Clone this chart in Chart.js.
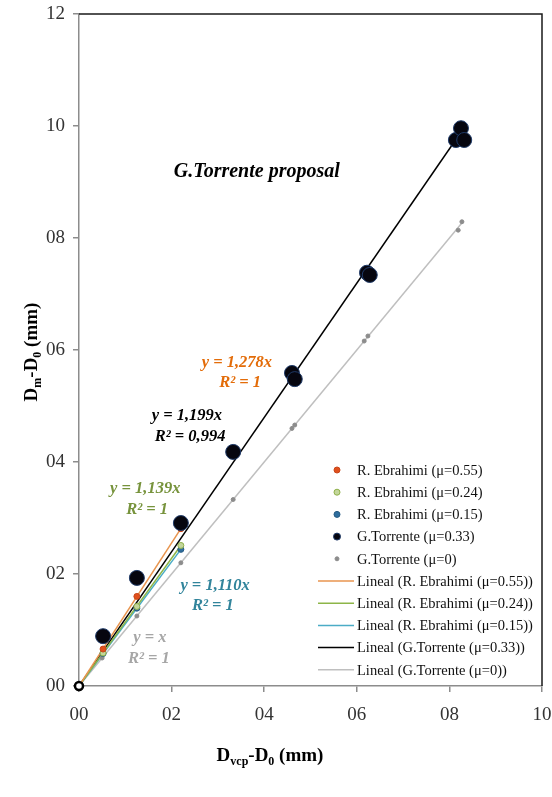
<!DOCTYPE html>
<html>
<head>
<meta charset="utf-8">
<script src="https://cdn.jsdelivr.net/npm/chart.js@4.4.0/dist/chart.umd.min.js"></script>
<style>
  html, body { margin: 0; padding: 0; background: #fff; }
  #wrap { width: 552px; height: 797px; position: relative; }
</style>
</head>
<body>
<div id="wrap"><canvas id="chart"></canvas></div>
<script>
'use strict';

// tick labels as printed in the figure (decimal separator lost)
const xTickLabels = ['00', '02', '04', '06', '08', '10'];
const yTickLabels = ['00', '02', '04', '06', '08', '10', '12'];

// measured points
const ebr055X = [0.052, 0.125, 0.22];
const ebr055Y = [0.066, 0.160, 0.281];
const ebr024X = [0.052, 0.125, 0.22];
const ebr024Y = [0.059, 0.142, 0.251];
const ebr015X = [0.052, 0.125, 0.22];
const ebr015Y = [0.058, 0.139, 0.244];
const torr033X = [0.052, 0.125, 0.22, 0.333, 0.46, 0.466, 0.622, 0.628, 0.814, 0.825, 0.832];
const torr033Y = [0.089, 0.193, 0.291, 0.418, 0.559, 0.548, 0.738, 0.734, 0.975, 0.996, 0.975];
const torr0X = [0.05, 0.125, 0.22, 0.333, 0.46, 0.466, 0.616, 0.624, 0.819, 0.827];
const torr0Y = [0.05, 0.125, 0.22, 0.333, 0.46, 0.466, 0.616, 0.625, 0.814, 0.829];

// linear fits (trend lines through the origin)
const fitEbrX = [0, 0.22];
const fit055Y = [0, 0.281];
const fit024Y = [0, 0.251];
const fit015Y = [0, 0.244];
const fitTorrX = [0, 0.83];
const fit033Y = [0, 0.995];
const fit0Y = [0, 0.83];

// equation labels: [text, x, y, colour]
const notes = [
    ['y = 1,278x', 0.341, 0.577, '#e36c09'],
    ['R² = 1', 0.348, 0.541, '#e36c09'],
    ['y = 1,199x', 0.233, 0.482, '#000000'],
    ['R² = 0,994', 0.240, 0.445, '#000000'],
    ['y = 1,139x', 0.143, 0.352, '#77933c'],
    ['R² = 1', 0.147, 0.314, '#77933c'],
    ['y = 1,110x', 0.294, 0.179, '#31849b'],
    ['R² = 1', 0.289, 0.143, '#31849b'],
    ['y = x', 0.153, 0.086, '#a6a6a6'],
    ['R² = 1', 0.151, 0.048, '#a6a6a6'],
];

const pts = (xs, ys) => xs.map((x, i) => ({ x, y: ys[i] }));
const SERIF = "'Liberation Serif', 'DejaVu Serif', serif";

function pointSet(label, xs, ys, fill, stroke, r) {
    return { label, data: pts(xs, ys), showLine: false, pointRadius: r, pointHoverRadius: r,
        backgroundColor: fill, borderColor: stroke, borderWidth: 1, inLegend: true };
}
function lineSet(label, xs, ys, color) {
    return { label, data: pts(xs, ys), showLine: true, pointRadius: 0, borderColor: color,
        backgroundColor: color, borderWidth: 1.5, inLegend: true };
}

// drawn top-first: earlier datasets end up above later ones
const datasets = [
    { label: 'origin', data: [{ x: 0, y: 0 }], pointRadius: 4, backgroundColor: '#fff',
      borderColor: '#000', borderWidth: 2.5, clip: false, inLegend: false },
    pointSet('G.Torrente (μ=0.33)', torr033X, torr033Y, '#06060f', '#1f3a68', 7.5),
    pointSet('R. Ebrahimi (μ=0.55)', ebr055X, ebr055Y, '#e0501c', '#c8461a', 3),
    pointSet('R. Ebrahimi (μ=0.24)', ebr024X, ebr024Y, '#c3d69b', '#8fb04a', 3),
    pointSet('R. Ebrahimi (μ=0.15)', ebr015X, ebr015Y, '#2f6e9e', '#255a82', 3),
    pointSet('G.Torrente (μ=0)', torr0X, torr0Y, '#8c8c8c', '#8c8c8c', 2),
    lineSet('Lineal (R. Ebrahimi (μ=0.55))', fitEbrX, fit055Y, '#e8954f'),
    lineSet('Lineal (R. Ebrahimi (μ=0.24))', fitEbrX, fit024Y, '#8db548'),
    lineSet('Lineal (R. Ebrahimi (μ=0.15))', fitEbrX, fit015Y, '#4bacc6'),
    lineSet('Lineal (G.Torrente (μ=0.33))', fitTorrX, fit033Y, '#000000'),
    lineSet('Lineal (G.Torrente (μ=0))', fitTorrX, fit0Y, '#bfbfbf'),
];
const legendOrder = [
    'R. Ebrahimi (μ=0.55)', 'R. Ebrahimi (μ=0.24)', 'R. Ebrahimi (μ=0.15)',
    'G.Torrente (μ=0.33)', 'G.Torrente (μ=0)',
    'Lineal (R. Ebrahimi (μ=0.55))', 'Lineal (R. Ebrahimi (μ=0.24))', 'Lineal (R. Ebrahimi (μ=0.15))',
    'Lineal (G.Torrente (μ=0.33))', 'Lineal (G.Torrente (μ=0))',
];

// text with subscript parts, e.g. [['D'], ['vcp', 1], ['-D'], ['0', 1], [' (mm)']]
function drawSubText(ctx, parts, cx, cy, size) {
    const big = `bold ${size}px ${SERIF}`;
    const small = `bold ${Math.round(size * 0.65)}px ${SERIF}`;
    let w = 0;
    parts.forEach(([t, sub]) => { ctx.font = sub ? small : big; w += ctx.measureText(t).width; });
    let x = cx - w / 2;
    ctx.textBaseline = 'alphabetic';
    ctx.textAlign = 'left';
    parts.forEach(([t, sub]) => {
        ctx.font = sub ? small : big;
        ctx.fillText(t, x, cy + size * 0.35 + (sub ? size * 0.25 : 0));
        x += ctx.measureText(t).width;
    });
}

const decorPlugin = {
    id: 'decor',
    afterDraw(chart) {
        const { ctx, chartArea: a, scales } = chart;
        ctx.save();
        // top and right frame
        ctx.strokeStyle = '#1a1a1a';
        ctx.lineWidth = 1.5;
        ctx.beginPath();
        ctx.moveTo(a.left, a.top);
        ctx.lineTo(a.right, a.top);
        ctx.lineTo(a.right, a.bottom);
        ctx.stroke();

        // title inside plot
        ctx.fillStyle = '#000';
        ctx.textAlign = 'center';
        ctx.textBaseline = 'middle';
        ctx.font = `bold italic 20px ${SERIF}`;
        ctx.fillText('G.Torrente proposal', scales.x.getPixelForValue(0.384), scales.y.getPixelForValue(0.918));

        // equations
        ctx.font = `bold italic 16.5px ${SERIF}`;
        notes.forEach(([t, x, y, c]) => {
            ctx.fillStyle = c;
            ctx.fillText(t, scales.x.getPixelForValue(x), scales.y.getPixelForValue(y));
        });

        // axis titles
        ctx.fillStyle = '#000';
        drawSubText(ctx, [['D'], ['vcp', 1], ['-D'], ['0', 1], [' (mm)']], 270, 754, 19);
        ctx.translate(30, 352);
        ctx.rotate(-Math.PI / 2);
        drawSubText(ctx, [['D'], ['m', 1], ['-D'], ['0', 1], [' (mm)']], 0, 0, 19);
        ctx.restore();

        // legend
        ctx.save();
        ctx.font = `14.5px ${SERIF}`;
        ctx.textAlign = 'left';
        ctx.textBaseline = 'middle';
        legendOrder.forEach((name, i) => {
            const ds = chart.data.datasets.find(d => d.label === name);
            const y = 470 + i * 22.2;
            if (ds.showLine) {
                ctx.strokeStyle = ds.borderColor;
                ctx.lineWidth = 1.5;
                ctx.beginPath();
                ctx.moveTo(318, y);
                ctx.lineTo(354, y);
                ctx.stroke();
            } else {
                const r = Math.min(ds.pointRadius, 3.5);
                ctx.fillStyle = ds.backgroundColor;
                ctx.strokeStyle = ds.borderColor;
                ctx.lineWidth = 1;
                ctx.beginPath();
                ctx.arc(337, y, r, 0, Math.PI * 2);
                ctx.fill();
                ctx.stroke();
            }
            ctx.fillStyle = '#111';
            ctx.fillText(name, 357, y + 1);
        });
        ctx.restore();
    },
};

function axisOpts(min, max, labels) {
    return {
        type: 'linear',
        min, max,
        ticks: {
            stepSize: 0.2,
            color: '#333',
            font: { family: SERIF, size: 19 },
            padding: 8,
            callback: (v, i) => labels[i],
        },
        grid: { display: true, drawOnChartArea: false, drawTicks: true, tickLength: 6, color: '#8c8c8c', lineWidth: 1.5 },
        border: { display: true, color: '#8c8c8c', width: 1.5 },
    };
}

const xAxis = axisOpts(0, 1, xTickLabels);
xAxis.ticks.padding = 12;
xAxis.afterFit = s => { s.height = 111; s.paddingLeft = 0; s.paddingRight = 0; };
const yAxis = axisOpts(0, 1.2, yTickLabels);
yAxis.afterFit = s => { s.width = 79; s.paddingTop = 0; s.paddingBottom = 0; };

new Chart(document.getElementById('chart'), {
    type: 'scatter',
    data: { datasets },
    options: {
        responsive: true,
        maintainAspectRatio: false,
        animation: false,
        layout: { padding: { left: 0, top: 14, right: 10, bottom: 0 } },
        plugins: { legend: { display: false }, tooltip: { enabled: false } },
        scales: { x: xAxis, y: yAxis },
    },
    plugins: [decorPlugin],
});
</script>
</body>
</html>
